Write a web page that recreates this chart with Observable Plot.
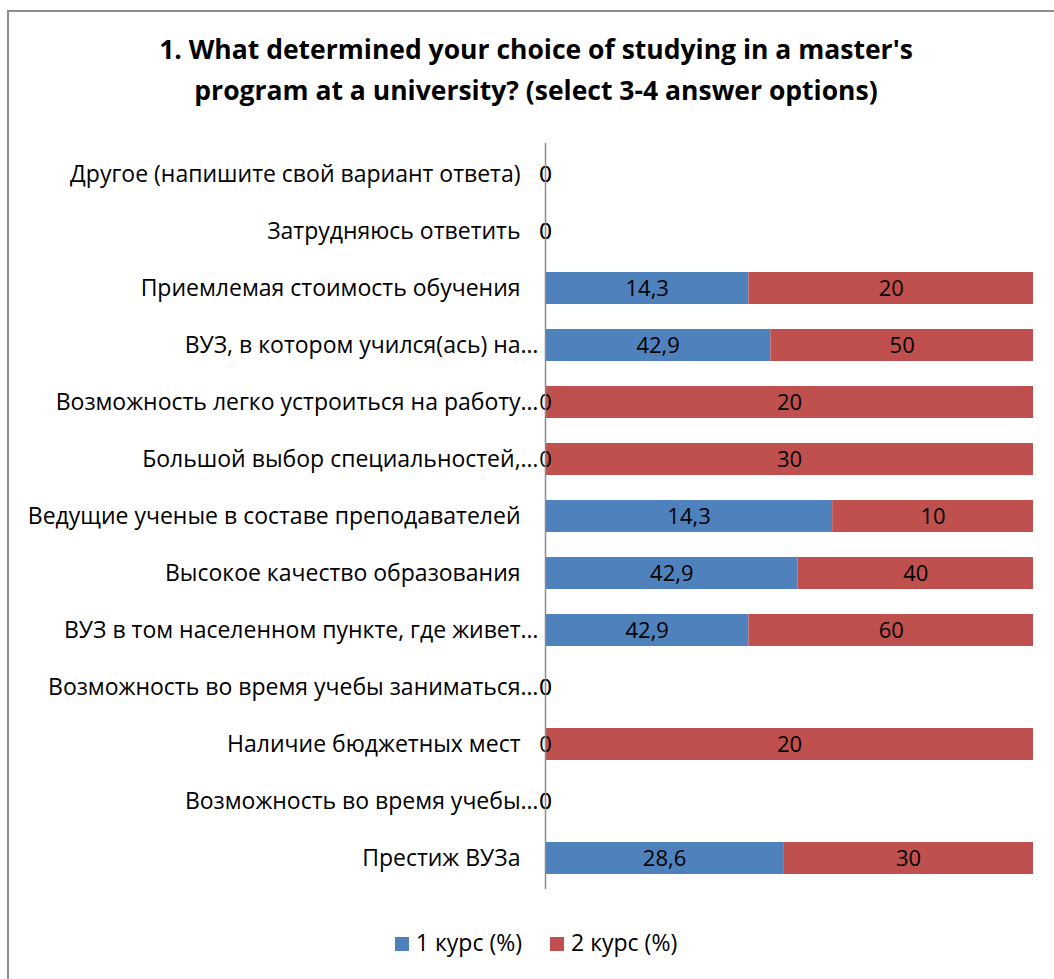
<!DOCTYPE html>
<html><head><meta charset="utf-8">
<script src="https://cdn.jsdelivr.net/npm/d3@7"></script>
<script src="https://cdn.jsdelivr.net/npm/@observablehq/plot@0.6"></script>
<style>
body{margin:0;background:#fff;font-family:"Open Sans",sans-serif;color:#000;width:1054px;height:979px;overflow:hidden;position:relative;}
#frame{position:absolute;left:7px;top:10px;width:1100px;height:1100px;border-left:2px solid #8c8c8c;border-top:2px solid #8c8c8c;}
#title{position:absolute;left:0;width:1072px;top:29px;text-align:center;font-weight:bold;font-size:26.5px;line-height:41px;}
#chart{position:absolute;left:0;top:130px;}
#legend{position:absolute;left:0;width:1072px;top:926px;text-align:center;font-size:23px;}
.item{display:inline-block;margin:0 14px;}
.sw{display:inline-block;width:14px;height:14px;margin-right:7px;vertical-align:0px;}
</style></head><body>
<div id="frame"></div>
<div id="title">1. What determined your choice of studying in a master's<br>program at a university? (select 3-4 answer options)</div>
<div id="chart"></div>
<div id="legend"></div>
<script>
const categories = [
  "Другое (напишите свой вариант ответа)",
  "Затрудняюсь ответить",
  "Приемлемая стоимость обучения",
  "ВУЗ, в котором учился(ась) на…",
  "Возможность легко устроиться на работу…",
  "Большой выбор специальностей,…",
  "Ведущие ученые в составе преподавателей",
  "Высокое качество образования",
  "ВУЗ в том населенном пункте, где живет…",
  "Возможность во время учебы заниматься…",
  "Наличие бюджетных мест",
  "Возможность во время учебы…",
  "Престиж ВУЗа"
];
const course1 = [0, 0, 14.3, 42.9, 0, 0, 14.3, 42.9, 42.9, 0, 0, 0, 28.6];
const course2 = [0, 0, 20, 50, 20, 30, 10, 40, 60, 0, 20, 0, 30];
const seriesNames = ["1 курс (%)", "2 курс (%)"];
const colors = ["#4F81BD", "#C0504D"];

const data = categories.flatMap((c, i) => [
  {category: c, series: seriesNames[0], value: course1[i]},
  {category: c, series: seriesNames[1], value: course2[i]}
]);
const fmt = v => String(v).replace(".", ",");
const truncated = categories.filter(c => c.endsWith("…"));
const full = categories.filter(c => !c.endsWith("…"));

const chart = Plot.plot({
  width: 1054,
  height: 770,
  marginLeft: 545,
  marginRight: 21,
  marginTop: 13,
  marginBottom: 11,
  style: {fontFamily: "Open Sans", fontSize: "22px", color: "#000", background: "transparent"},
  x: {axis: null, domain: [0, 1]},
  y: {domain: categories, paddingInner: 0.44, paddingOuter: 0.22, label: null, axis: null},
  color: {domain: seriesNames, range: colors},
  marks: [
    Plot.barX(data, Plot.stackX({x: "value", y: "category", fill: "series", offset: "normalize"})),
    Plot.text(data, Plot.stackX({x: "value", y: "category", z: "series", text: d => fmt(d.value), offset: "normalize", fill: "#000", fontSize: 22})),
    Plot.ruleX([0], {stroke: "#8c8c8c", strokeWidth: 1.5}),
    Plot.axisY(full, {tickSize: 0, tickPadding: 25, fontSize: 23, fill: "#000", label: null}),
    Plot.axisY(truncated, {tickSize: 0, tickPadding: 7, fontSize: 23, fill: "#000", label: null})
  ]
});
document.getElementById("chart").appendChild(chart);

const legend = document.getElementById("legend");
seriesNames.forEach((s, i) => {
  const it = document.createElement("span");
  it.className = "item";
  it.innerHTML = `<span class="sw" style="background:${colors[i]}"></span>${s}`;
  legend.appendChild(it);
});
</script>
</body></html>
